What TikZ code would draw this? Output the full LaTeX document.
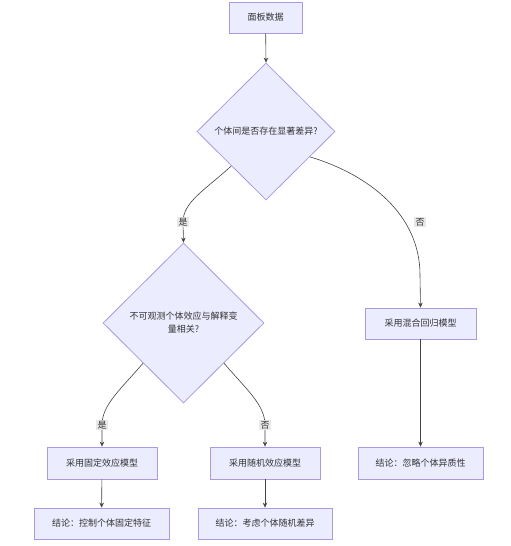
\documentclass[tikz,border=0pt]{standalone}
\usepackage{fontspec}
\setmainfont{Noto Sans CJK SC}
\usetikzlibrary{shapes.geometric,arrows.meta}
\definecolor{nodefill}{HTML}{ECECFF}
\definecolor{nodeline}{HTML}{A99AE2}
\definecolor{edgeline}{HTML}{444444}
\definecolor{lblfill}{HTML}{E8E8E8}
\definecolor{txt}{HTML}{333333}
\tikzset{
  procbox/.style={draw=nodeline, fill=nodefill, line width=0.8pt, rectangle, minimum height=31pt, inner sep=0pt, font=\fontsize{9}{11}\selectfont, text=txt},
  decision/.style={draw=nodeline, fill=nodefill, line width=0.8pt, diamond, inner sep=0pt, align=center, font=\fontsize{9}{13}\selectfont, text=txt},
  conn/.style={draw=edgeline, line width=0.6pt, -{Stealth[length=5pt,width=4.5pt]}},
  lbl/.style={fill=lblfill, inner sep=1.2pt, font=\fontsize{9}{11}\selectfont, text=txt}
}
\begin{document}
\begin{tikzpicture}[x=1pt,y=-1pt]
\useasboundingbox[fill=white] (0,0) rectangle (511,546);
\node[procbox, minimum width=73pt] (top) at (265.5,17.5) {面板数据};
\node[decision, minimum width=138pt, minimum height=137pt] (d1) at (266,131.5) {个体间是否存在显著差异?};
\node[decision, minimum width=161pt, minimum height=160pt] (d2) at (183.5,323) {不可观测个体效应与解释变\\量相关?};
\node[procbox, minimum width=111pt] (m1) at (420.5,323.5) {采用混合回归模型};
\node[procbox, minimum width=110pt, minimum height=32pt] (f1) at (102,463) {采用固定效应模型};
\node[procbox, minimum width=110pt, minimum height=32pt] (r1) at (265,463) {采用随机效应模型};
\node[procbox, minimum width=125pt, minimum height=32pt] (c3) at (420.5,463) {结论：忽略个体异质性};
\node[procbox, minimum width=135pt] (c1) at (101.5,523.5) {结论：控制个体固定特征};
\node[procbox, minimum width=134pt] (c2) at (265,523.5) {结论：考虑个体随机差异};

\draw[conn] (top) -- (d1.north);
\draw[conn] (d1.south west) .. controls (205,190) and (183,202) .. (183,222) node[lbl] {是} -- (d2.north);
\draw[conn] (d1.-30) .. controls (370,175) and (420,215) .. (420,275) -- (m1.north) node[lbl] at (420,222) {否};
\draw[conn] (d2.south west) .. controls (120,390) and (102,405) .. (102,425) node[lbl] {是} -- (f1.north);
\draw[conn] (d2.south east) .. controls (247,390) and (265,405) .. (265,425) node[lbl] {否} -- (r1.north);
\draw[conn] (f1) -- (c1);
\draw[conn] (r1) -- (c2);
\draw[conn] (m1) -- (c3);
\end{tikzpicture}
\end{document}
